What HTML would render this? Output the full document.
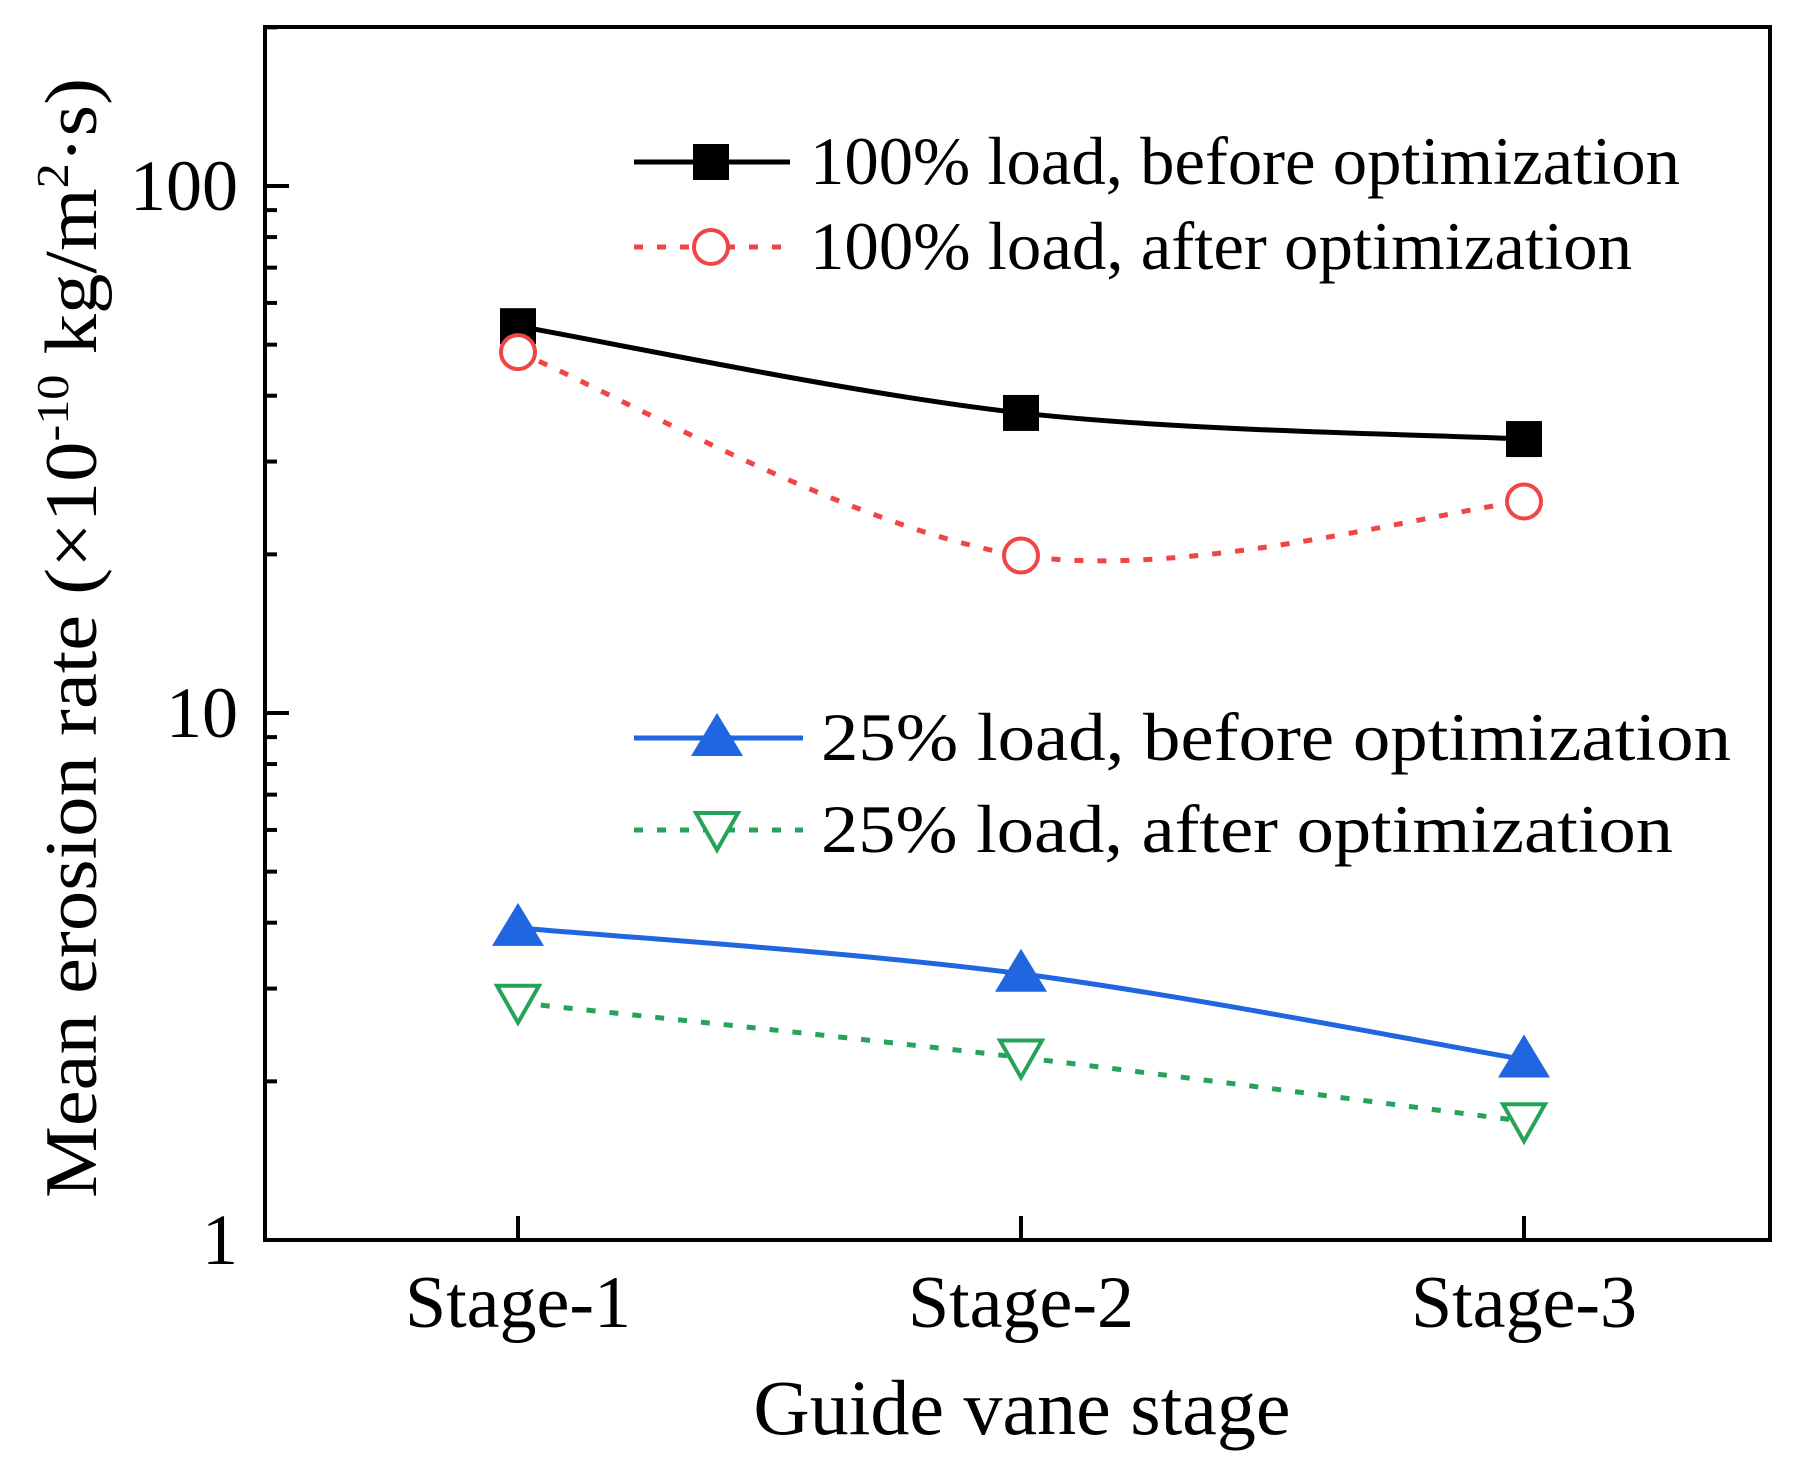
<!DOCTYPE html>
<html><head><meta charset="utf-8"><style>
html,body{margin:0;padding:0;background:#fff}
svg{display:block;font-family:"Liberation Serif","Times New Roman",serif}
</style></head><body>
<svg id="chart" width="1798" height="1474" viewBox="0 0 1798 1474" xmlns="http://www.w3.org/2000/svg">
<rect x="265" y="27" width="1505" height="1213" fill="none" stroke="#000" stroke-width="4"/>
<g id="axes"></g>
<g id="series"></g>
<g id="legend"></g>
<text x="1022" y="1434" font-size="78" text-anchor="middle">Guide vane stage</text>
<text transform="translate(96,638) rotate(-90)" font-size="74" text-anchor="middle" textLength="1120" lengthAdjust="spacingAndGlyphs">Mean erosion rate (×10<tspan dy="-28" font-size="46">-10</tspan><tspan dy="28"> kg/m</tspan><tspan dy="-28" font-size="46">2</tspan><tspan dy="28">·s)</tspan></text>
</svg>
<script>
const categories = ["Stage-1", "Stage-2", "Stage-3"];
const s100Before = [54.2, 37.1, 33.1];
const s100After = [48.4, 19.9, 25.2];
const s25Before = [3.91, 3.2, 2.2];
const s25After = [2.82, 2.22, 1.68];
const yTickLabels = ["1", "10", "100"];
const yTickValues = [1, 10, 100];

const NS = "http://www.w3.org/2000/svg";
const X0 = 265, X1 = 1770, Y0 = 1240, Y1 = 27;
const decade = 527;
function xPos(i){ return 518 + i * 503; }
function yPos(v){ return Y0 - Math.log10(v) * decade; }
function mk(tag, attrs, parent){ const e = document.createElementNS(NS, tag); for (const k in attrs) e.setAttribute(k, attrs[k]); parent.appendChild(e); return e; }

const axes = document.getElementById('axes');
for (let d = 0; d < 3; d++) {
  for (let m = 1; m <= 9; m++) {
    const v = Math.pow(10, d) * m;
    const y = yPos(v);
    if (y < Y1 + 2) continue;
    const t = mk('line', {x1: X0, x2: X0 + (m === 1 ? 24 : 12), y1: y, y2: y, stroke: '#000', 'stroke-width': 4}, axes);
    
    
  }
}
const tTop = mk('line', {x1: X0, x2: X0 + 12, y1: yPos(200), y2: yPos(200), stroke: '#000', 'stroke-width': 4}, axes);


yTickValues.forEach((v, i) => {
  const t = mk('text', {x: 238, y: yPos(v) + 24, 'font-size': 72, 'text-anchor': 'end'}, axes);
  t.textContent = yTickLabels[i];
  
  
});
categories.forEach((c, i) => {
  const l = mk('line', {x1: xPos(i), x2: xPos(i), y1: Y0, y2: Y0 - 24, stroke: '#000', 'stroke-width': 4}, axes);
  
  
  const t = mk('text', {x: xPos(i), y: 1327, 'font-size': 74, 'text-anchor': 'middle'}, axes);
  t.textContent = c;
  
  
});

function curve(pts){
  let d = `M${pts[0][0]},${pts[0][1]}`;
  for (let i = 0; i < pts.length - 1; i++) {
    const p0 = pts[Math.max(0, i - 1)], p1 = pts[i], p2 = pts[i + 1], p3 = pts[Math.min(pts.length - 1, i + 2)];
    const c1 = [p1[0] + (p2[0] - p0[0]) / 6, p1[1] + (p2[1] - p0[1]) / 6];
    const c2 = [p2[0] - (p3[0] - p1[0]) / 6, p2[1] - (p3[1] - p1[1]) / 6];
    d += ` C${c1[0]},${c1[1]} ${c2[0]},${c2[1]} ${p2[0]},${p2[1]}`;
  }
  return d;
}
function marker(type, x, y, color, parent){
  let e;
  if (type === 'square') e = mk('rect', {x: x - 18, y: y - 18, width: 36, height: 36, fill: color}, parent);
  else if (type === 'circle') e = mk('circle', {cx: x, cy: y, r: 17, fill: '#fff', stroke: color, 'stroke-width': 4}, parent);
  else if (type === 'up') e = mk('polygon', {points: `${x},${y - 25} ${x - 26},${y + 18} ${x + 26},${y + 18}`, fill: color}, parent);
  else e = mk('polygon', {points: `${x - 21},${y - 17} ${x + 21},${y - 17} ${x},${y + 20}`, fill: '#fff', stroke: color, 'stroke-width': 4}, parent);
  return e;
}
const seriesDefs = [
  {name: '100-before', data: s100Before, color: '#000', dash: '', m: 'square', label: '100% load, before optimization', ly: 162, lw: 870},
  {name: '100-after', data: s100After, color: '#f04545', dash: '9 14', m: 'circle', label: '100% load, after optimization', ly: 247, lw: 822},
  {name: '25-before', data: s25Before, color: '#1f66e0', dash: '', m: 'up', label: '25% load, before optimization', ly: 738, lw: 910},
  {name: '25-after', data: s25After, color: '#26a35a', dash: '9 14', m: 'down', label: '25% load, after optimization', ly: 830, lw: 852}
];
const sg = document.getElementById('series');
const lg = document.getElementById('legend');
seriesDefs.forEach((s, si) => {
  const pts = s.data.map((v, i) => [xPos(i), yPos(v)]);
  const p = mk('path', {d: curve(pts), fill: 'none', stroke: s.color, 'stroke-width': 5, 'stroke-dasharray': s.dash}, sg);
  
  
  pts.forEach(pt => {
    const m = marker(s.m, pt[0], pt[1], s.color, sg);
    
    
  });
  const x1 = 634, x2 = si >= 2 ? 803 : 790, mx = si >= 2 ? 717 : 711;
  const ll = mk('line', {x1: x1, x2: x2, y1: s.ly, y2: s.ly, stroke: s.color, 'stroke-width': 5, 'stroke-dasharray': s.dash}, lg);
  
  
  const lm = marker(s.m, mx, s.ly, s.color, lg);
  
  
  const t = mk('text', {x: si >= 2 ? 821 : 810, y: s.ly + 22, 'font-size': 68, textLength: s.lw, lengthAdjust: 'spacingAndGlyphs'}, lg);
  t.textContent = s.label;
  
  
});
</script>
</body></html>
